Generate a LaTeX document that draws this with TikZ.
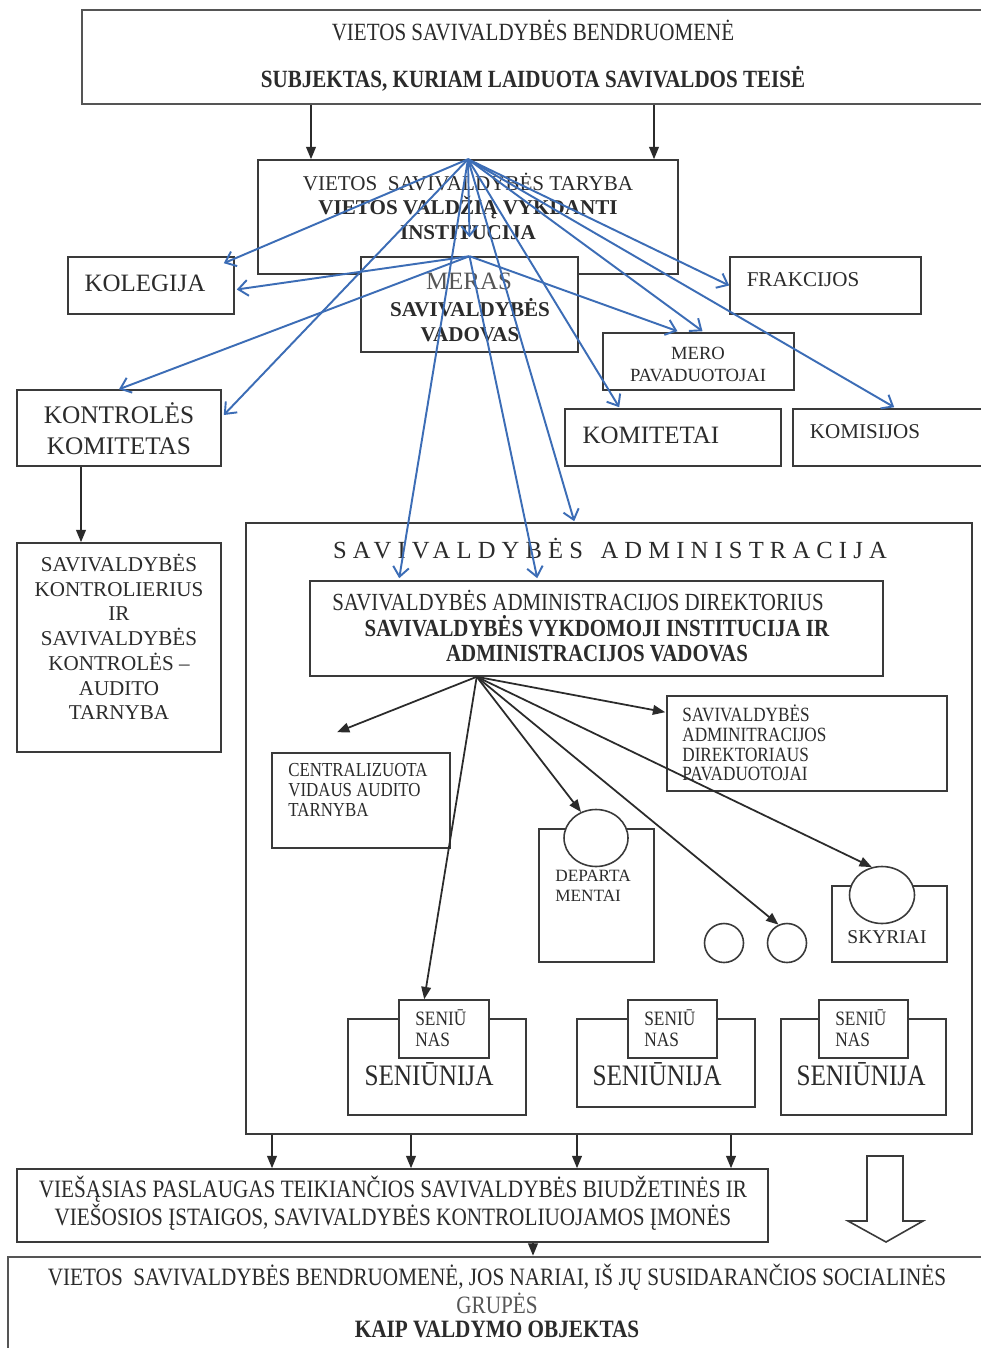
\documentclass[tikz,border=0pt]{standalone}
\usepackage{fontspec}
\setmainfont{Liberation Serif}
\newfontfamily\narrowrm[FakeStretch=0.85]{Liberation Serif}
\usetikzlibrary{arrows.meta, positioning, calc, fit, shapes.geometric}
\definecolor{ink}{HTML}{2B2B2B}
\definecolor{frame}{HTML}{3A3A3A}
\definecolor{linkblue}{HTML}{3C6DB6}
\definecolor{midgray}{HTML}{555555}
\newcommand\fsz[2]{\fontsize{#1}{#2}\selectfont}

\begin{document}
\begin{tikzpicture}[
  x=0.02cm, y=-0.02cm,
  every node/.style={text=ink},
  box/.style={draw=frame, line width=0.9pt, fill=white, inner sep=0pt},
  heavybox/.style={box, draw=midgray, line width=1.5pt},
  txt/.style={align=center, inner sep=0pt},
  blu/.style={linkblue, line width=1.1pt, -{Straight Barb[length=5.5pt,width=9pt]}},
  blk/.style={ink, line width=1pt, -{Triangle[length=7pt,width=5.5pt]}},
]

% Background
\fill[white] (0,0) rectangle (980,1348);
\useasboundingbox (0,0) rectangle (980,1348);

% Community as subject
\node[heavybox, fit={(82,10) (995,104)}] (bendr) {};
\node[txt, font=\narrowrm\fsz{14.1}{17}] (bendr1) at (533,30) {VIETOS SAVIVALDYBĖS BENDRUOMENĖ};
\node[txt, font=\narrowrm\bfseries\fsz{14.1}{17}] (bendr2) at (533,79) {SUBJEKTAS, KURIAM LAIDUOTA SAVIVALDOS TEISĖ};

% Council, mayor and their bodies
\node[box, fit={(258,160) (678,274)}] (tar) {};
\node[txt, font=\fsz{12}{13.9}] (tartxt) at (468,206) {VIETOS\ \ SAVIVALDYBĖS TARYBA\\ \textbf{VIETOS VALDŽIĄ VYKDANTI}\\ \textbf{INSTITUCIJA}};

\node[box, fit={(68,257) (234,314)}] (kol) {};
\node[txt, font=\fsz{14.2}{17}] (koltxt) at (145,283) {KOLEGIJA};

\node[box, fit={(361,257) (578,352)}] (mer) {};
\node[txt, font=\fsz{14.2}{17}, text=midgray] (mertxt) at (469,281) {MERAS};
\node[txt, font=\bfseries\fsz{12}{14.2}] (mertxt2) at (470,320) {SAVIVALDYBĖS\\VADOVAS};

\node[box, fit={(730,257) (921,314)}] (frak) {};
\node[txt, font=\fsz{12}{14}] (fraktxt) at (803,280) {FRAKCIJOS};

\node[box, fit={(603,333) (794,390)}] (merop) {};
\node[txt, font=\fsz{10.6}{12.5}] (meroptxt) at (698,364) {MERO\\PAVADUOTOJAI};

\node[box, fit={(17,390) (221,466)}] (kk) {};
\node[txt, font=\fsz{14.4}{17.6}] (kktxt) at (119,429) {KONTROLĖS\\KOMITETAS};

\node[box, fit={(565,409) (781,466)}] (komit) {};
\node[txt, font=\fsz{14.2}{17}] (komittxt) at (651,435) {KOMITETAI};

\node[box, fit={(793,409) (995,466)}] (komis) {};
\node[txt, font=\fsz{12}{14}] (komistxt) at (865,432) {KOMISIJOS};

\node[box, fit={(17,543) (221,752)}] (kontr) {};
\node[txt, font=\fsz{12}{14.05}] (kontrtxt) at (119,637) {SAVIVALDYBĖS\\KONTROLIERIUS\\IR\\SAVIVALDYBĖS\\KONTROLĖS –\\AUDITO\\TARNYBA};

% Administration
\node[box, fit={(246,523) (972,1134)}] (adm) {};
\node[txt, font=\fsz{14}{16}\addfontfeature{LetterSpace=25}] (admtxt) at (610,549) {SAVIVALDYBĖS\hspace{10pt}ADMINISTRACIJA};

\node[box, fit={(310,581) (883,676)}] (dir) {};
\node[txt, font=\narrowrm\fsz{14}{16}] (dirtxt) at (578,601) {SAVIVALDYBĖS ADMINISTRACIJOS DIREKTORIUS};
\node[txt, font=\narrowrm\bfseries\fsz{14}{14.2}] (dirtxt2) at (597,639) {SAVIVALDYBĖS VYKDOMOJI INSTITUCIJA IR\\ADMINISTRACIJOS VADOVAS};

\node[box, fit={(667,696) (947,791)}] (pav) {};
\node[txt, align=left, anchor=west, font=\narrowrm\fsz{11.5}{11.2}] (pavtxt) at (682,743) {SAVIVALDYBĖS\\ADMINITRACIJOS\\DIREKTORIAUS\\PAVADUOTOJAI};

\node[box, fit={(272,753) (450,848)}] (cvat) {};
\node[txt, align=left, anchor=west, font=\narrowrm\fsz{11.3}{11.4}] (cvattxt) at (288,790) {CENTRALIZUOTA\\VIDAUS AUDITO\\TARNYBA};

\node[box, fit={(539,829) (654,962)}] (dep) {};
\node[box, ellipse, minimum width=1.28cm, minimum height=1.14cm] (depc) at (596,838) {};
\node[txt, align=left, anchor=west, font=\fsz{9.8}{11.4}] (deptxt) at (555,886) {DEPARTA\\MENTAI};

\node[box, circle, minimum size=0.78cm] (sc1) at (724,943) {};
\node[box, circle, minimum size=0.78cm] (sc2) at (787,943) {};

\node[box, fit={(832,886) (947,962)}] (sky) {};
\node[box, ellipse, minimum width=1.3cm, minimum height=1.14cm] (skyc) at (882,895) {};
\node[txt, font=\fsz{11.1}{13}] (skytxt) at (887,937) {SKYRIAI};

% Elderships
\foreach \ox/\oX/\oY/\ix/\iX/\tx [count=\k] in {348/526/1115/399/489/429, 577/755/1107/628/717/657, 781/946/1115/819/908/861}{
  \node[box, fit={(\ox,1019) (\oX,\oY)}] (snj\k) {};
  \node[box, fit={(\ix,1000) (\iX,1058)}] (sns\k) {};
  \node[txt, align=left, anchor=west, font=\narrowrm\fsz{11.6}{12}] (snst\k) at (\ix+16,1028) {SENIŪ\\NAS};
  \node[txt, font=\narrowrm\fsz{16.9}{18}] (snjt\k) at (\tx,1074) {SENIŪNIJA};
}

% Services and the community as object
\node[box, fit={(17,1169) (768,1242)}] (svc) {};
\node[txt, font=\narrowrm\fsz{14.2}{14.2}] (svctxt) at (393,1203) {VIEŠĄSIAS PASLAUGAS TEIKIANČIOS SAVIVALDYBĖS BIUDŽETINĖS IR\\VIEŠOSIOS ĮSTAIGOS, SAVIVALDYBĖS KONTROLIUOJAMOS ĮMONĖS};

\node[heavybox, fit={(8,1257) (995,1360)}] (objekt) {};
\node[txt, font=\narrowrm\fsz{14.2}{13.8}] (objekttxt) at (497,1301) {VIETOS\ \ SAVIVALDYBĖS BENDRUOMENĖ, JOS NARIAI, IŠ JŲ SUSIDARANČIOS SOCIALINĖS\\ {\color{midgray}GRUPĖS}\\ \textbf{KAIP VALDYMO OBJEKTAS}};

% Hollow arrow
\draw[frame, line width=0.9pt, fill=white] (867,1156) -- (903,1156) -- (903,1221) -- (923,1221)
  -- (886,1242) -- (848,1221) -- (867,1221) -- cycle;

% Council links
\draw[blu] (tar.north) -- ($(kol.north east)+(-11,7)$);
\draw[blu] (tar.north) -- ($(kk.east)+(2,-13)$);
\draw[blu] (tar.north) -- ($(mer.north)+(0,-19)$);
\draw[blu] (tar.north) -- ($(dir.north west)+(90,-2)$);
\draw[blu] (tar.north) -- ($(adm.north west)+(329,-1)$);
\draw[blu] (tar.north) -- ($(komit.north west)+(55,-1)$);
\draw[blu] (tar.north) -- ($(merop.north)+(4,-1)$);
\draw[blu] (tar.north) -- (frak.west);
\draw[blu] (tar.north) -- ($(komis.north west)+(102,-1)$);

% Mayor links
\draw[blu] (mer.north) -- ($(kol.east)+(2,4)$);
\draw[blu] (mer.north) -- (kk.north);
\draw[blu] (mer.north) -- ($(merop.north)+(-21,-1)$);
\draw[blu] (mer.north) -- ($(dir.north west)+(228,-2)$);

% Director links
\coordinate (dirhub) at ($(dir.south west)!0.2915!(dir.south east)$);
\coordinate (cvtip) at ($(cvat.north)+(-24,-20)$);
\draw[blk] (dirhub) -- (cvtip);
\draw[blk] (dirhub) -- ($(pav.north west)+(-1,17)$);
\draw[blk] (dirhub) -- (depc.120);
\draw[blk] (dirhub) -- (sc2.115);
\draw[blk] (dirhub) -- (skyc.110);
\draw[blk] (dirhub) -- ($(sns1.north west)+(26,0)$);

% Vertical flows
\foreach \xx in {311,654} \draw[blk] (\xx,0 |- bendr.south) -- (\xx,0 |- tar.north);
\draw[blk] (81,0 |- kk.south) -- (81,0 |- kontr.north);
\foreach \xx in {272,411,577,731} \draw[blk] (\xx,0 |- adm.south) -- (\xx,0 |- svc.north);
\draw[blk] (533,0 |- svc.south) -- (533,0 |- objekt.north);

\end{tikzpicture}
\end{document}
